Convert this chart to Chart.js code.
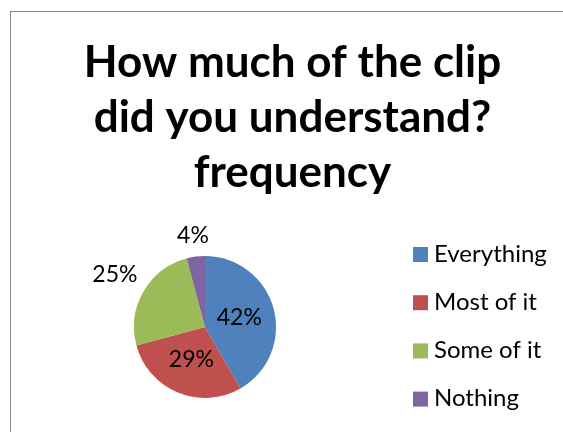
<!DOCTYPE html>
<html lang="en">
<head>
  <meta charset="UTF-8" />
  <title>How much of the clip did you understand?</title>
  <script src="https://cdn.jsdelivr.net/npm/chart.js"></script>
  <style>
    html, body { margin: 0; padding: 0; background: #fff; overflow: hidden; }
    #frame {
      position: absolute;
      left: 10px;
      top: 11px;
      width: 563px;
      height: 432px;
      border-left: 1px solid #888;
      border-top: 1px solid #888;
    }
  </style>
</head>
<body>
  <div id="frame"><canvas id="pie" width="563" height="432"></canvas></div>
  <script>
    // answers to the question, counted
    const answers = ['Everything', 'Most of it', 'Some of it', 'Nothing'];
    const counts = [10, 7, 6, 1];
    const titleLines = ['How much of the clip', 'did you understand?', 'frequency'];

    const colors = ['#4F81BD', '#C0504D', '#9BBB59', '#8064A2'];
    const font = 'Lato, Calibri, sans-serif';

    // percentage labels, inside big slices and outside small ones
    const pctLabels = {
      id: 'pctLabels',
      afterDatasetsDraw(chart) {
        const ctx = chart.ctx;
        const meta = chart.getDatasetMeta(0);
        const total = counts.reduce((a, b) => a + b, 0);
        ctx.save();
        ctx.font = '23px ' + font;
        ctx.fillStyle = '#000';
        ctx.textAlign = 'center';
        ctx.textBaseline = 'middle';
        meta.data.forEach((arc, i) => {
          const share = counts[i] / total;
          const text = Math.round(share * 100) + '%';
          const mid = (arc.startAngle + arc.endAngle) / 2;
          const dx = Math.cos(mid), dy = Math.sin(mid);
          let dist;
          if (share > 0.27) {
            dist = arc.outerRadius * 0.5;
          } else {
            const w = ctx.measureText(text).width;
            dist = arc.outerRadius + 8 + Math.abs(dx) * w / 2 + Math.abs(dy) * 11;
          }
          ctx.fillText(text, arc.x + dx * dist, arc.y + dy * dist);
        });
        ctx.restore();
      }
    };

    // legend as its own layout box on the right, below the full-width title
    const sideLegend = {
      id: 'sideLegend',
      beforeInit(chart) {
        const box = {
          position: 'right',
          weight: 1000,
          fullSize: false,
          options: {},
          isHorizontal() { return false; },
          update(maxWidth, maxHeight) {
            this.width = 175;
            this.height = maxHeight;
          },
          draw() {
            const ctx = chart.ctx;
            const ds = chart.data.datasets[0];
            ctx.save();
            ctx.font = '24px ' + font;
            ctx.textBaseline = 'middle';
            chart.data.labels.forEach((label, i) => {
              const y = 242 + i * 48.2;
              ctx.fillStyle = ds.backgroundColor[i];
              ctx.fillRect(this.left + 14, y - 7, 15, 15);
              ctx.fillStyle = '#000';
              ctx.fillText(label, this.left + 35, y);
            });
            ctx.restore();
          },
          _layers() {
            return [{ z: 0, draw: () => this.draw() }];
          }
        };
        if (Chart.layouts) Chart.layouts.addBox(chart, box);
        else chart.boxes.push(box);
      }
    };

    new Chart(document.getElementById('pie'), {
      type: 'pie',
      data: {
        labels: answers,
        datasets: [{
          data: counts,
          backgroundColor: colors,
          borderWidth: 0
        }]
      },
      options: {
        responsive: false,
        animation: false,
        layout: { padding: { left: 0, right: 0, top: 0, bottom: 46 } },
        plugins: {
          tooltip: { enabled: false },
          legend: { display: false },
          title: {
            display: true,
            text: titleLines,
            color: '#000',
            font: { family: font, size: 44, weight: 'bold', lineHeight: 1.25 },
            padding: { top: 23, bottom: 56 }
          }
        }
      },
      plugins: [pctLabels, sideLegend]
    });
  </script>
</body>
</html>
